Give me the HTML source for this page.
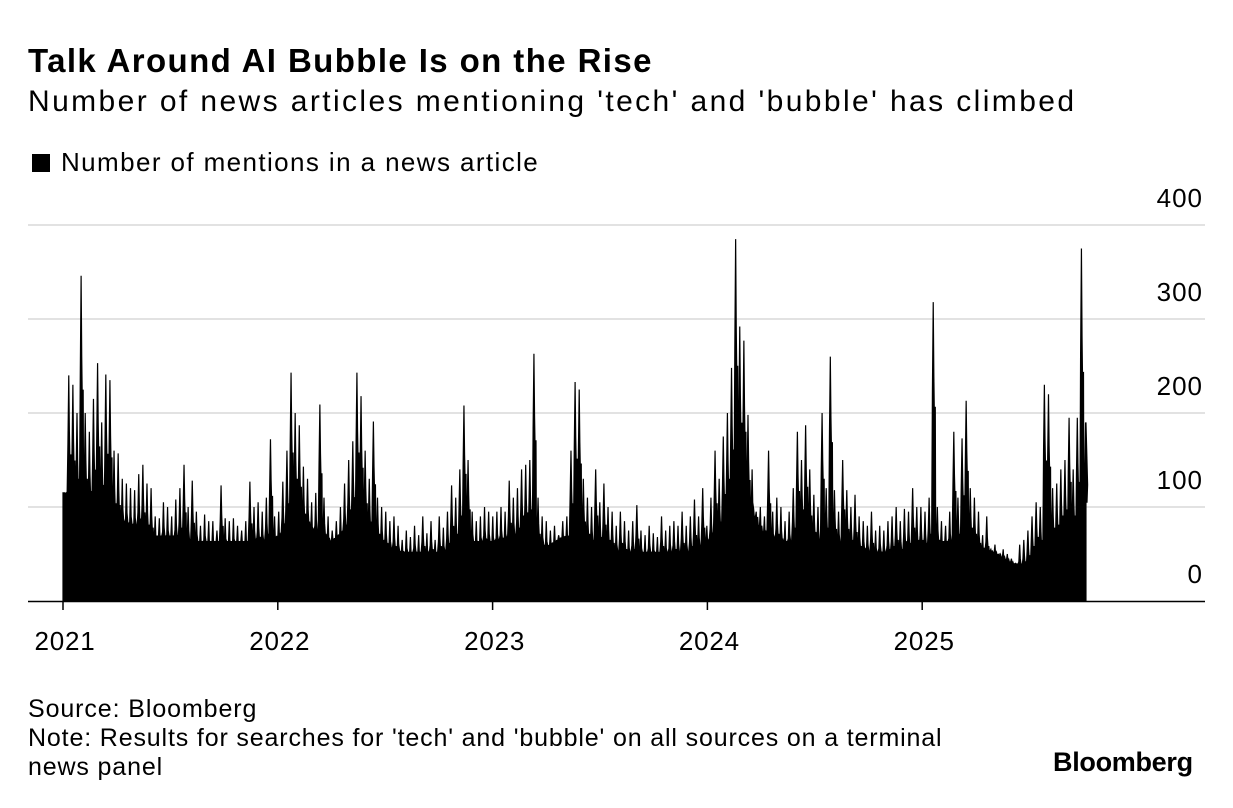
<!DOCTYPE html>
<html><head><meta charset="utf-8"><style>
body{margin:0;background:#fff;font-family:"Liberation Sans",Arial,sans-serif;color:#000}
#wrap{position:relative;width:1233px;height:808px;overflow:hidden}
.t{position:absolute;white-space:nowrap}
</style></head><body>
<div id="wrap">
<div class="t" style="left:28px;top:42px;font-size:33px;font-weight:bold;letter-spacing:1.4px">Talk Around AI Bubble Is on the Rise</div>
<div class="t" style="left:28px;top:85px;font-size:30px;letter-spacing:2.4px">Number of news articles mentioning 'tech' and 'bubble' has climbed</div>
<div class="t" style="left:32px;top:147px;font-size:26px;letter-spacing:1.4px"><span style="display:inline-block;width:18px;height:18px;background:#000;margin-right:11px;vertical-align:-1px"></span>Number of mentions in a news article</div>
<svg id="chart" width="1233" height="808" style="position:absolute;left:0;top:0"></svg>
<div class="t" style="left:28px;top:695px;font-size:25px;letter-spacing:0.9px">Source: Bloomberg</div>
<div class="t" style="left:28px;top:724px;font-size:25px;line-height:29px;letter-spacing:0.85px">Note: Results for searches for 'tech' and 'bubble' on all sources on a terminal<br>news panel</div>
<div class="t" style="left:1053px;top:747px;font-size:27px;font-weight:bold;letter-spacing:-0.3px">Bloomberg</div>
</div>
<script>
const yTicks=[0,100,200,300,400];
const xYears=[2021,2022,2023,2024,2025];
const weeklyHighs=[
115,240,230,200,346,200,180,215,253,190,241,235,160,157,130,125,120,118,135,145,125,120,90,88,105,100,90,108,120,145,100,128,95,80,92,85,85,75,123,88,85,88,80,75,85,127,100,105,95,110,172,90,
95,127,160,243,200,187,143,130,105,115,209,110,90,75,85,100,125,150,170,243,218,160,130,191,110,100,95,85,90,80,65,75,68,80,70,90,72,85,65,90,78,95,123,110,140,208,150,95,85,90,100,95,
90,95,100,95,128,110,120,140,145,150,263,110,90,85,75,80,70,85,90,160,233,225,130,110,100,140,105,125,100,95,80,95,85,75,85,102,75,70,80,72,68,90,75,80,85,80,95,80,90,108,90,120,
80,110,160,130,175,200,248,385,292,277,198,140,95,100,90,160,95,110,100,85,95,120,180,150,187,140,113,100,200,120,260,118,95,150,118,100,113,90,85,80,95,75,80,75,85,90,100,85,98,95,120,100,
100,95,110,318,100,85,80,95,180,110,173,213,120,110,95,70,90,55,60,50,55,50,45,40,60,65,75,90,105,100,230,220,120,125,140,150,195,140,195,375,190];
const monthlyLows=[100,95,85,75,70,60,60,55,55,55,55,55,
60,75,65,55,70,60,50,45,45,45,50,55,
55,60,60,50,60,55,50,45,45,45,45,45,
55,75,100,65,55,55,55,55,50,45,45,45,
50,55,55,50,45,35,30,30,40,55];

const NS="http://www.w3.org/2000/svg";
const svg=document.getElementById('chart');
const X0=63,PXY=214.8,Y0=601,PXV=0.94;
const xs=t=>X0+t*PXY;
const ys=v=>Y0-v*PXV;
function lowAt(t){const m=t*12;const i=Math.min(Math.floor(m),monthlyLows.length-1);const j=Math.min(i+1,monthlyLows.length-1);const f=Math.min(1,m-i);return monthlyLows[i]*(1-f)+monthlyLows[j]*f;}

yTicks.forEach(v=>{
  if(v>0){const l=document.createElementNS(NS,'line');
  
  
  l.setAttribute('x1',28);l.setAttribute('x2',1205);l.setAttribute('y1',ys(v));l.setAttribute('y2',ys(v));
  l.setAttribute('stroke','#d9d9d9');l.setAttribute('stroke-width','1.5');svg.appendChild(l);}
  const tx=document.createElementNS(NS,'text');
  
  
  tx.setAttribute('x',1203);tx.setAttribute('y',ys(v)-18);tx.setAttribute('text-anchor','end');
  tx.setAttribute('font-size','26');tx.setAttribute('letter-spacing','1');tx.setAttribute('font-family','Liberation Sans, Arial, sans-serif');
  tx.textContent=v;svg.appendChild(tx);
});

const W=1/52.18;
let d='M'+xs(0)+','+Y0;
weeklyHighs.forEach((h,i)=>{
  const t=i*W;const lo=lowAt(t)*1.15;const lo2=lowAt(t+W)*1.15;
  const base=Math.min(h,Math.max(lo,h*0.55));
  d+=' L'+xs(t).toFixed(2)+','+ys(Math.min(h,lo)).toFixed(2);
  d+=' L'+xs(t+W*0.2).toFixed(2)+','+ys(Math.min(h,Math.max(lo,h*0.7))).toFixed(2);
  d+=' L'+xs(t+W*0.4).toFixed(2)+','+ys(h).toFixed(2);
  d+=' L'+xs(t+W*0.55).toFixed(2)+','+ys(Math.min(h,Math.max(lo2,h*0.75))).toFixed(2);
  d+=' L'+xs(t+W*0.75).toFixed(2)+','+ys(base).toFixed(2);
  d+=' L'+xs(t+W*0.9).toFixed(2)+','+ys(Math.min(h,Math.max(lo2,h*0.65))).toFixed(2);
});
const tEnd=(weeklyHighs.length-1)*W+W*0.5;
d+=' L'+xs(tEnd).toFixed(2)+','+ys(weeklyHighs[weeklyHighs.length-1]).toFixed(2)+' L'+xs(tEnd).toFixed(2)+','+Y0+' Z';
const area=document.createElementNS(NS,'path');


area.setAttribute('d',d);area.setAttribute('fill','#000');area.setAttribute('stroke','#000');area.setAttribute('stroke-width','1.2');area.setAttribute('stroke-linejoin','miter');
svg.appendChild(area);

const bl=document.createElementNS(NS,'line');


bl.setAttribute('x1',28);bl.setAttribute('x2',1205);bl.setAttribute('y1',Y0+0.5);bl.setAttribute('y2',Y0+0.5);
bl.setAttribute('stroke','#000');bl.setAttribute('stroke-width','1.5');svg.appendChild(bl);

xYears.forEach((yr,i)=>{
  const x=xs(i);
  const tk=document.createElementNS(NS,'line');
  
  
  tk.setAttribute('x1',x);tk.setAttribute('x2',x);tk.setAttribute('y1',Y0);tk.setAttribute('y2',Y0+9);
  tk.setAttribute('stroke','#000');tk.setAttribute('stroke-width','1.5');svg.appendChild(tk);
  const tx=document.createElementNS(NS,'text');
  
  
  tx.setAttribute('x',x+2);tx.setAttribute('y',650);tx.setAttribute('text-anchor','middle');
  tx.setAttribute('font-size','26');tx.setAttribute('letter-spacing','0.8');tx.setAttribute('font-family','Liberation Sans, Arial, sans-serif');
  tx.textContent=yr;svg.appendChild(tx);
});
</script>
</body></html>
